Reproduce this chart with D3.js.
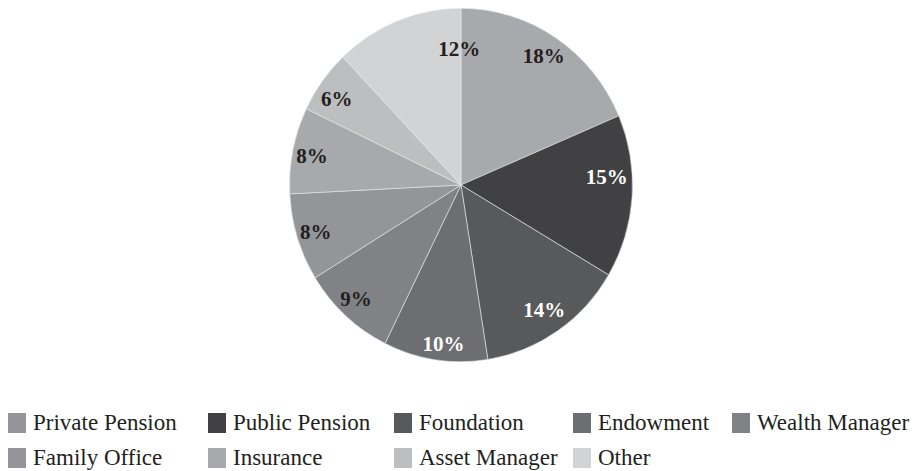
<!DOCTYPE html>
<html>
<head>
<meta charset="utf-8">
<script src="https://cdn.jsdelivr.net/npm/d3@7"></script>
<style>
  body { margin: 0; background: #fff; }
  svg { display: block; }
</style>
</head>
<body>
<svg id="chart" width="920" height="471"></svg>
<script>
// data, clockwise from 12 o'clock (shares, labels as printed)
var categories = ["Private Pension", "Public Pension", "Foundation", "Endowment", "Wealth Manager",
                  "Family Office", "Insurance", "Asset Manager", "Other"];
var shares = [18.6, 14.9, 14.0, 9.8, 8.9, 8.0, 7.9, 5.8, 12.1];
var shareLabels = ["18%", "15%", "14%", "10%", "9%", "8%", "8%", "6%", "12%"];

// styling
var sliceColors = ["#a7a9ac", "#414042", "#58595b", "#6d6e71", "#808285",
                   "#939598", "#a7a9ac", "#bcbec0", "#d1d3d4"];
var legendColors = ["#939598", "#414042", "#58595b", "#6d6e71", "#808285",
                    "#939598", "#a7a9ac", "#bcbec0", "#d1d3d4"];
var whiteLabel = [false, true, true, true, false, false, false, false, false];
// small hand nudges so labels sit where the original put them
var labelNudge = [[0, 0], [-4, -18], [-1, -3], [5, 6], [-4, 0], [-2, 1], [-2, 1], [-3, 5], [54, 7]];

var cx = 461, cy = 185, radius = 171.5, yStretch = 1.03;
var labelR = 150;

var svg = d3.select("#chart");

var pie = d3.pie().sort(null).value(d => d);
var arcs = pie(shares);

var arc = d3.arc().innerRadius(0).outerRadius(radius);
var labelArc = d3.arc().innerRadius(labelR).outerRadius(labelR);

var color = d3.scaleOrdinal().domain(categories).range(sliceColors);

var g = svg.append("g")
    .attr("transform", `translate(${cx},${cy}) scale(1,${yStretch})`);

g.selectAll("path")
    .data(arcs)
    .enter()
    .append("path")
    .attr("d", arc)
    .attr("fill", (d, i) => color(categories[i]))
    .attr("stroke", "#e6e7e8")
    .attr("stroke-width", 0.6);

// percentage labels (outside the stretched group so text isn't distorted)
svg.append("g")
    .selectAll("text")
    .data(arcs)
    .enter()
    .append("text")
    .attr("x", (d, i) => cx + labelArc.centroid(d)[0] + labelNudge[i][0])
    .attr("y", (d, i) => cy + labelArc.centroid(d)[1] * yStretch + labelNudge[i][1] + 7)
    .attr("text-anchor", "middle")
    .style("font-family", "'Liberation Serif', serif")
    .style("font-weight", "bold")
    .style("font-size", "21px")
    .attr("fill", (d, i) => whiteLabel[i] ? "#ffffff" : "#231f20")
    .text((d, i) => shareLabels[i]);

// legend: 5 columns x 2 rows
var colX = [8, 208, 394, 573, 732];
var rowY = [413, 448];
var perRow = 5;

var legend = svg.append("g")
    .selectAll("g")
    .data(categories)
    .enter()
    .append("g")
    .attr("transform", (d, i) => `translate(${colX[i % perRow]},${rowY[Math.floor(i / perRow)]})`);

legend.append("rect")
    .attr("width", 18)
    .attr("height", 20)
    .attr("fill", (d, i) => legendColors[i]);

legend.append("text")
    .attr("x", 25)
    .attr("y", 17)
    .style("font-family", "'Liberation Serif', serif")
    .style("font-size", "23px")
    .attr("fill", "#231f20")
    .text(d => d);
</script>
</body>
</html>
